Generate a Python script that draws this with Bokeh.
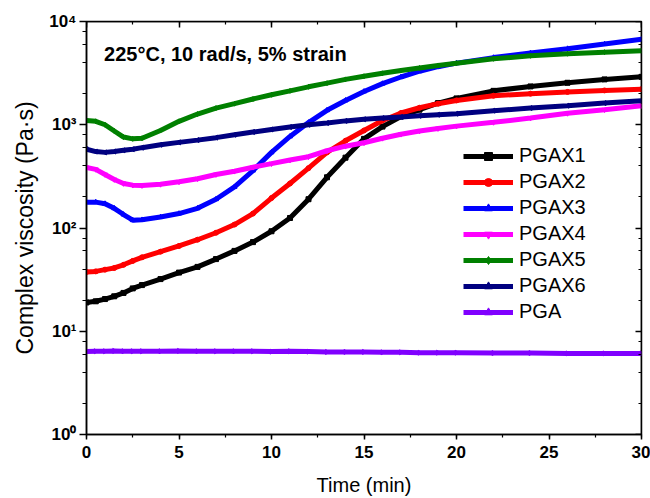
import math
from bokeh.plotting import figure
from bokeh.models import (LogAxis, LinearAxis, SingleIntervalTicker, LogTicker,
                          CustomJSTickFormatter, Label, Legend)
from bokeh.embed import file_html
from bokeh.resources import INLINE

# ---- data ----
time_min = [0, 0.5, 1, 1.5, 2, 2.5, 3, 4, 5, 6, 7, 8, 9, 10, 11, 12, 13, 14, 15,
            16, 17, 18, 19, 20, 22, 24, 26, 28, 30]
pgax1 = [19, 19.5, 20.5, 21.8, 23.5, 26, 28, 32, 37, 42, 50, 60, 73, 93, 125, 190,
         310, 480, 730, 960, 1200, 1400, 1620, 1800, 2130, 2350, 2550, 2750, 2910]
pgax2 = [37.5, 38, 39.5, 41, 44, 48, 52, 59, 67, 77, 90, 108, 138, 195, 270, 380,
         540, 700, 880, 1100, 1300, 1460, 1600, 1720, 1910, 2000, 2080, 2150, 2210]
pgax3 = [178, 178, 172, 155, 135, 119, 120, 128, 138, 155, 190, 250, 360, 540, 770,
         1050, 1380, 1720, 2100, 2500, 2900, 3300, 3650, 3950, 4470, 4950, 5450,
         6050, 6730]
pgax4 = [385, 370, 330, 295, 270, 260, 258, 265, 280, 300, 330, 355, 388, 420, 455,
         490, 560, 620, 670, 740, 810, 870, 920, 970, 1055, 1160, 1290, 1400, 1530]
pgax5 = [1100, 1080, 1000, 870, 760, 730, 740, 880, 1080, 1270, 1450, 1600, 1775,
         1950, 2130, 2330, 2530, 2750, 2950, 3150, 3350, 3550, 3750, 3950, 4350,
         4650, 4870, 5050, 5200]
pgax6 = [580, 550, 540, 550, 565, 580, 600, 640, 675, 710, 750, 800, 850, 900, 950,
         1000, 1040, 1090, 1130, 1160, 1190, 1220, 1250, 1280, 1370, 1450, 1530,
         1620, 1710]
pga = [6.35, 6.4, 6.4, 6.45, 6.4, 6.4, 6.4, 6.4, 6.45, 6.4, 6.4, 6.4, 6.4, 6.35,
       6.4, 6.35, 6.3, 6.3, 6.3, 6.25, 6.25, 6.2, 6.2, 6.2, 6.15, 6.15, 6.1, 6.1, 6.1]

series_names = ["PGAX1", "PGAX2", "PGAX3", "PGAX4", "PGAX5", "PGAX6", "PGA"]
series_values = [pgax1, pgax2, pgax3, pgax4, pgax5, pgax6, pga]
series_colors = ["#000000", "#FF0000", "#0000FF", "#FF00FF", "#008000", "#000080", "#8000FF"]
series_markers = ["square", "circle", "triangle", "inverted_triangle", "diamond",
                  "triangle", "triangle"]
series_angles = [0, 0, 0, 0, 0, math.pi / 2, -math.pi / 2]

x_start, x_end = 0, 30
y_start, y_end = 1, 10000
y_tick_values = [1, 10, 100, 1000, 10000]
y_tick_labels = ["10\u2070", "10\u00b9", "10\u00b2", "10\u00b3", "10\u2074"]

FONT = "Liberation Sans"

p = figure(width=650, height=498, y_axis_type="log",
           x_range=(x_start, x_end), y_range=(y_start, y_end),
           output_backend="svg", toolbar_location=None,
           min_border_left=86, min_border_right=9, min_border_top=21,
           min_border_bottom=64)
p.xgrid.visible = False
p.ygrid.visible = False
p.outline_line_color = "black"
p.outline_line_width = 1.5
p.background_fill_color = "white"
p.border_fill_color = "white"

legend_items = []
for name, vals, col, mk, ang in zip(series_names, series_values, series_colors,
                                    series_markers, series_angles):
    r1 = p.line(time_min, vals, line_color=col, line_width=5)
    r2 = p.scatter(time_min, vals, marker=mk, angle=ang, size=5,
                   fill_color=col, line_color=col)
    legend_items.append((name, [r1, r2]))

# axes styling
xa = p.xaxis[0]
xa.ticker = SingleIntervalTicker(interval=5, num_minor_ticks=2)
xa.axis_label = "Time (min)"
ya = p.yaxis[0]
ya.ticker = LogTicker()
ya.major_label_overrides = dict(zip(y_tick_values, y_tick_labels))
ya.axis_label = "Complex viscosity (Pa\u00b7s)"
for ax in (xa, ya):
    ax.axis_line_width = 1.5
    ax.axis_line_color = "black"
    ax.major_tick_line_width = 1.5
    ax.minor_tick_line_width = 1.2
    ax.major_tick_in = 0
    ax.minor_tick_in = 0
    ax.major_label_text_font = FONT
    ax.major_label_text_font_style = "bold"
    ax.major_label_text_font_size = "17px"
    ax.major_label_text_color = "black"
    ax.axis_label_text_font = FONT
    ax.axis_label_text_font_style = "normal"
    ax.axis_label_text_color = "black"
xa.major_tick_out = 5
xa.minor_tick_out = 3
xa.major_label_standoff = 6
xa.axis_label_text_font_size = "20px"
xa.axis_label_standoff = 13
ya.major_tick_out = 7
ya.minor_tick_out = 4
ya.major_label_standoff = 3
ya.axis_label_text_font_size = "23px"
ya.axis_label_standoff = 8

blank = CustomJSTickFormatter(code="return ''")
top = LinearAxis(ticker=SingleIntervalTicker(interval=5, num_minor_ticks=2),
                 formatter=blank, fixed_location=y_end)
right = LogAxis(ticker=LogTicker(), formatter=blank, fixed_location=x_end)
for ax in (top, right):
    ax.axis_line_width = 1.5
    ax.major_tick_line_width = 1.5
    ax.minor_tick_line_width = 1.2
    ax.major_tick_in = 6
    ax.minor_tick_in = 3
    ax.major_tick_out = 0
    ax.minor_tick_out = 0
    ax.major_label_standoff = 0
    ax.major_label_text_font_size = "0px"
p.add_layout(top, "above")
p.add_layout(right, "right")

label = Label(x=0.95, y=4850, text="225\u00b0C, 10 rad/s, 5% strain",
              text_font=FONT, text_font_style="bold", text_font_size="20px",
              text_baseline="middle", text_color="black")
p.add_layout(label)

legend = Legend(items=legend_items, location=(377, 111), padding=0, margin=0,
                spacing=3, glyph_width=50, glyph_height=20, label_height=20,
                label_standoff=6, label_text_font=FONT, label_text_font_size="20px",
                label_text_color="black",
                border_line_color=None, background_fill_alpha=0)
p.add_layout(legend, "center")

open("out.html", "w").write(file_html(p, INLINE))
